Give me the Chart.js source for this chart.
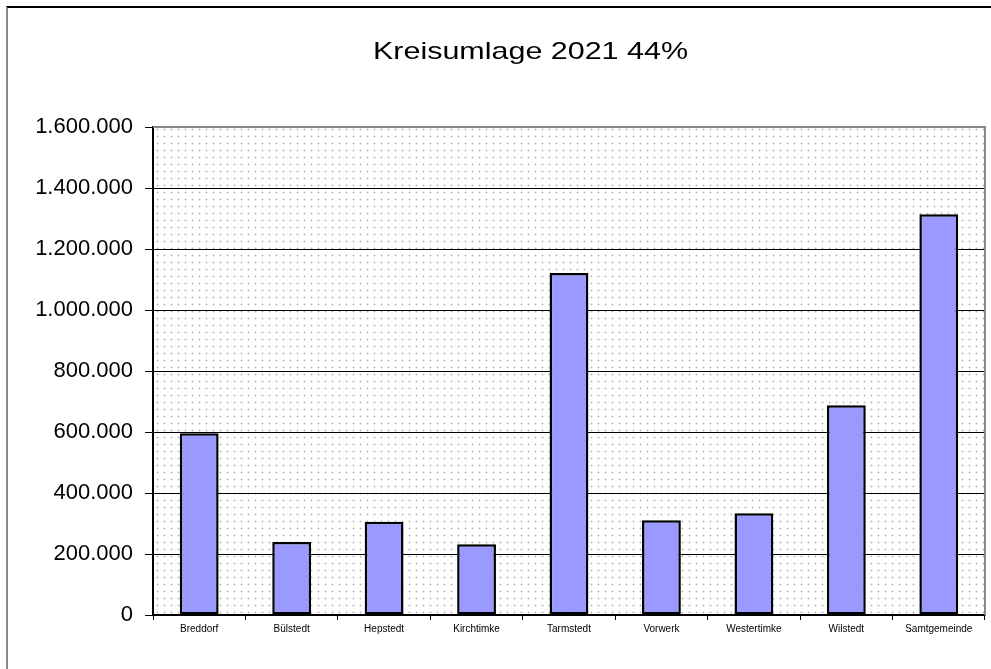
<!DOCTYPE html>
<html>
<head>
<meta charset="utf-8">
<script src="https://cdn.jsdelivr.net/npm/chart.js@4/dist/chart.umd.min.js"></script>
<style>
  html, body { margin: 0; padding: 0; background: #fff; overflow: hidden; }
  #wrap { position: relative; width: 991px; height: 669px; }
  #frame { position: absolute; left: 6px; top: 6px; width: 1000px; height: 700px;
           border-top: 2px solid #000; border-left: 2px solid #888; box-sizing: border-box; }
  canvas { position: absolute; left: 0; top: 0; }
</style>
</head>
<body>
<div id="wrap">
  <div id="frame"></div>
  <canvas id="c" width="991" height="669"></canvas>
</div>
<script>
const titleText = "Kreisumlage 2021 44%";
const categories = ["Breddorf", "Bülstedt", "Hepstedt", "Kirchtimke", "Tarmstedt", "Vorwerk", "Westertimke", "Wilstedt", "Samtgemeinde"];
const values = [596000, 239000, 306000, 232000, 1121000, 311000, 334000, 688000, 1314000];
const yMin = 0, yMax = 1600000, yStep = 200000;

function fmt(v) {
  return String(Math.round(v)).replace(/\B(?=(\d{3})+(?!\d))/g, ".");
}

// dotted background pattern
const pc = document.createElement("canvas");
pc.width = 7; pc.height = 7;
const px = pc.getContext("2d");
px.fillStyle = "#fff"; px.fillRect(0, 0, 7, 7);
px.fillStyle = "#e2e2e2";
px.fillRect(2, 3, 1, 1); px.fillRect(4, 3, 1, 1); px.fillRect(3, 2, 1, 1); px.fillRect(3, 4, 1, 1);
px.fillStyle = "#b4b4b4"; px.fillRect(3, 3, 1, 1);
const ctx0 = document.getElementById("c").getContext("2d");
const pattern = ctx0.createPattern(pc, "repeat");

const plotBg = {
  id: "plotBg",
  beforeDraw(chart) {
    const { ctx, chartArea: a } = chart;
    ctx.save();
    ctx.fillStyle = pattern;
    ctx.fillRect(a.left, a.top, a.right - a.left, a.bottom - a.top);
    // title
    ctx.font = "24px 'Liberation Sans', Arial, sans-serif";
    ctx.fillStyle = "#000";
    ctx.textAlign = "center";
    ctx.textBaseline = "alphabetic";
    const w = ctx.measureText(titleText).width;
    const sx = 315 / w;
    ctx.translate(530.5, 59);
    ctx.scale(sx, 1);
    ctx.fillText(titleText, 0, 0);
    ctx.restore();
  },
  afterDatasetsDraw(chart) {
    const { ctx, chartArea: a } = chart;
    ctx.save();
    ctx.strokeStyle = "#888";
    ctx.lineWidth = 2;
    ctx.beginPath();
    ctx.moveTo(a.left, a.top);
    ctx.lineTo(a.right, a.top);
    ctx.lineTo(a.right, a.bottom);
    ctx.stroke();
    ctx.restore();
  }
};

new Chart(document.getElementById("c"), {
  type: "bar",
  data: {
    labels: categories,
    datasets: [{
      data: values,
      backgroundColor: "#9999ff",
      borderColor: "#000",
      borderWidth: 2.5,
      borderSkipped: false,
      categoryPercentage: 1.0,
      barPercentage: 0.42
    }]
  },
  plugins: [plotBg],
  options: {
    responsive: false,
    animation: false,
    layout: { padding: { left: 0, right: 6, top: 127, bottom: 0 } },
    plugins: {
      legend: { display: false },
      tooltip: { enabled: false },
      title: { display: false }
    },
    scales: {
      y: {
        min: yMin, max: yMax,
        afterFit(s) { s.width = 153; },
        ticks: {
          stepSize: yStep,
          color: "#000",
          padding: 12,
          font: { family: "'Liberation Sans', Arial, sans-serif", size: 22 },
          callback: (v) => fmt(v)
        },
        grid: { color: "#000", lineWidth: 1, tickLength: 8, tickColor: "#000", drawTicks: true },
        border: { color: "#000", width: 2 }
      },
      x: {
        afterFit(s) { s.height = 54; },
        ticks: {
          color: "#000",
          padding: 3,
          maxRotation: 0,
          autoSkip: false,
          font: { family: "'Liberation Sans', Arial, sans-serif", size: 10 }
        },
        grid: { drawOnChartArea: false, tickLength: 5, tickColor: "#000", offset: true },
        border: { color: "#000", width: 1.5 }
      }
    }
  }
});
</script>
</body>
</html>
